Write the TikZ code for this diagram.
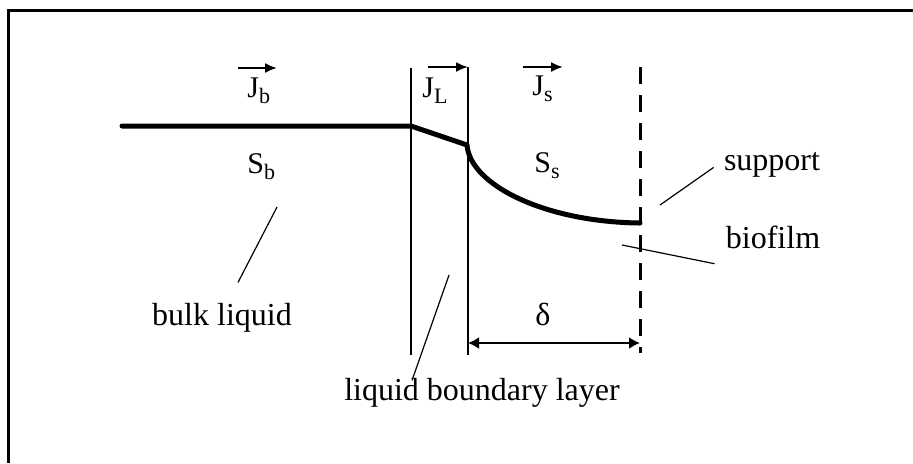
\documentclass[tikz,border=0pt]{standalone}
\usepackage{fontspec}
\setmainfont{Liberation Serif}
\usetikzlibrary{arrows.meta,calc}
\newcommand{\quant}[2]{#1\raisebox{-3pt}{\fontsize{11}{13}\selectfont #2}}

\begin{document}
\begin{tikzpicture}[x=0.5pt,y=-0.5pt,
  lbl/.style={font=\fontsize{16}{19}\selectfont,inner sep=0pt,anchor=base},
  sym/.style={font=\fontsize{15}{18}\selectfont,inner sep=0pt,anchor=base west},
  wall/.style={line width=1.3pt},
  film/.style={line width=1.5pt,dash pattern=on 8.5pt off 5.5pt},
  profile/.style={line width=2.5pt,line join=round,line cap=round},
  lead/.style={line width=0.6pt},
  vec/.style={line width=1pt,-{Latex[length=6pt,width=5pt]}},
  dim/.style={line width=1pt,{Latex[length=5.5pt,width=6pt]}-{Latex[length=5.5pt,width=6pt]}}]
\useasboundingbox (0,0) rectangle (913,463);
\draw[line width=1.5pt] (8,463) -- (8,10) -- (913,10);
\coordinate (w1t) at (411,68);
\coordinate (w1b) at (411,355);
\coordinate (w2t) at (468,67);
\coordinate (w2b) at (468,355);
\coordinate (spt) at (640,67);
\coordinate (spb) at (640,353);
\draw[wall] (w1t) -- (w1b);
\draw[wall] (w2t) -- (w2b);
\draw[film] (spt) -- (spb);
\coordinate (p0) at (122,126);
\coordinate (p1) at (411,126);
\coordinate (p2) at (467,145);
\coordinate (p3) at (640,223);
\draw[profile] (p0) -- (p1) -- (p2) .. controls (470,185) and (545,222) .. (p3);
\node[sym] (jb) at (247,97) {\quant{J}{b}};
\node[sym] (jl) at (422,97) {\quant{J}{L}};
\node[sym] (js) at (532,95) {\quant{J}{s}};
\node[sym] (sb) at (247,173) {\quant{S}{b}};
\node[sym] (ss) at (534,172) {\quant{S}{s}};
\draw[vec] ($(jb.base west)+(-9,-29)$) -- ($(jb.base west)+(30,-29)$);
\draw[vec] ($(jl.base west)+(6,-30)$) -- (w2t);
\draw[vec] ($(js.base west)+(-9,-28)$) -- ($(js.base west)+(31,-28)$);
\node[lbl] (bulk) at (222,325) {bulk liquid};
\node[lbl] (blayer) at (482,400) {liquid boundary layer};
\node[lbl] (support) at (772,170) {support};
\node[lbl] (bio) at (773,248) {biofilm};
\node[lbl] (delta) at (543,325) {δ};
\coordinate (bl) at (277,207);
\coordinate (ly) at (449,275);
\coordinate (su) at (660,205);
\coordinate (bf) at (622,245);
\draw[lead] ($(bulk.north)+(16,-20)$) -- (bl);
\draw[lead] ($(blayer.north)+(-70,3)$) -- (ly);
\draw[lead] ($(support.west)+(-10,3)$) -- (su);
\draw[lead] ($(bio.south west)+(-11,15)$) -- (bf);
\draw[dim] ($(w2b)+(0,-12)$) -- ($(spb)+(0,-10)$);
\end{tikzpicture}
\end{document}
